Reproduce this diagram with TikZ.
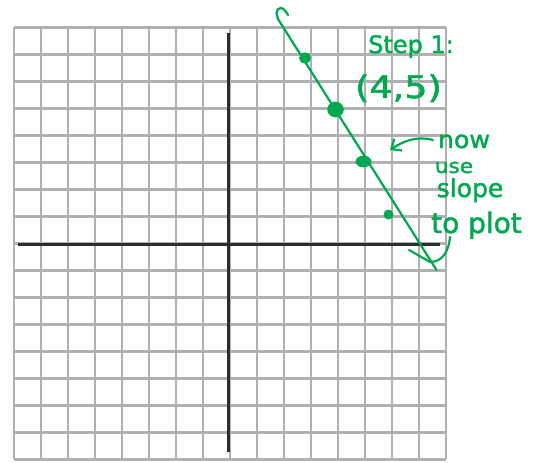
\documentclass[tikz,border=0pt]{standalone}
\usepackage{fontspec}
\setmainfont{DejaVu Sans}
\newfontfamily\handfont{DejaVu Sans}[FakeBold=1.6]
\usetikzlibrary{arrows.meta}
\definecolor{penGreen}{RGB}{0,168,80}
\definecolor{gridGray}{RGB}{176,176,176}
\definecolor{axisDark}{RGB}{45,45,45}
\tikzset{
  gridline/.style={draw=gridGray, line width=2.7pt},
  axisline/.style={draw=axisDark, line width=3pt},
  pen/.style={draw=penGreen, line width=2.2pt, line cap=round, line join=round},
  dotfill/.style={fill=penGreen},
  hand/.style={text=penGreen, inner sep=0pt, anchor=base},
}
\begin{document}
\begin{tikzpicture}[x=1pt, y=-1pt]
\useasboundingbox (0,0) rectangle (534,462);
% grid
\foreach \i in {0,...,16} {
  \draw[gridline] ({14+27*\i},27.3) -- ({14+27*\i},459.3);
  \draw[gridline] (14,{27.3+27*\i}) -- (446,{27.3+27*\i});
}
% axes
\coordinate (yTop) at (228.5,33);
\coordinate (yBot) at (228.5,452);
\coordinate (xLeft) at (18,244.3);
\coordinate (xRight) at (440,244.3);
\draw[axisline] (yTop) -- (yBot);
\draw[axisline] (xLeft) -- (xRight);
% green line
\coordinate (lTop) at (278,19);
\coordinate (lBot) at (436.5,270);
\draw[pen] (lTop) -- (lBot);
\draw[pen] (lTop) -- (276.5,13) .. controls (278,6) and (283,6) .. (288,15);
% dots
\coordinate (p1) at (305,58);
\coordinate (p2) at (335.5,109.5);
\coordinate (p3) at (363.5,161.5);
\coordinate (p4) at (388.5,214.5);
\fill[dotfill] (p1) ellipse [x radius=6, y radius=5.5];
\fill[dotfill] (p2) ellipse [x radius=8.3, y radius=7.8];
\fill[dotfill] (p3) ellipse [x radius=8, y radius=5.8];
\fill[dotfill] (p4) ellipse [x radius=5, y radius=5];
% texts
\node[hand, font=\handfont\fontsize{24}{24}\selectfont] (step) at (411,53) {Step 1:};
\node[hand, font=\handfont\fontsize{31}{31}\selectfont, xscale=1.18] (pt) at (398.5,98) {(4,5)};
\node[hand, font=\handfont\fontsize{24}{24}\selectfont, xscale=1.05] (now) at (464,148) {now};
\node[hand, font=\handfont\fontsize{20}{20}\selectfont, xscale=1.08] (use) at (454,173) {use};
\node[hand, font=\handfont\fontsize{25}{25}\selectfont] (slope) at (470,197) {slope};
\node[hand, font=\handfont\fontsize{28}{28}\selectfont] (plot) at (476.5,233) {to plot};
% arrows
\coordinate (nowTail) at (433,140);
\coordinate (nowTip) at (390,150);
\draw[pen, -{Straight Barb[length=8pt, width=14pt]}] (nowTail) .. controls (418,136) and (405,140) .. (nowTip);
\coordinate (plotTail) at (450,237);
\coordinate (plotTip) at (430,262);
\coordinate (plotBarb) at (409,250);
\draw[pen] (plotTail) .. controls (449,250) and (443,262) .. (plotTip) -- (plotBarb);
\end{tikzpicture}
\end{document}
